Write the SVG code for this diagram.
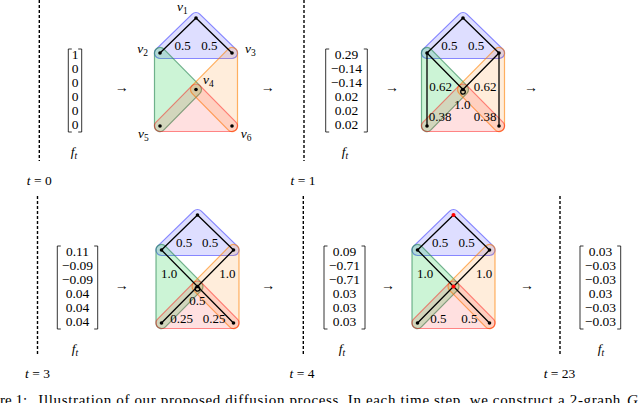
<svg xmlns="http://www.w3.org/2000/svg" xmlns:xlink="http://www.w3.org/1999/xlink" width="640" height="403" viewBox="0 0 640 403" font-family="'Liberation Serif', 'DejaVu Serif', serif">
<style>
text{font-family:"Liberation Serif","DejaVu Serif",serif;fill:#000}
.n{font-size:13.5px;text-anchor:middle}
.w{font-size:13px;text-anchor:middle}
.i{font-style:italic}
.ar{font-size:14px;text-anchor:middle}
.dash{stroke:#000;stroke-width:1.4;stroke-dasharray:3 2;fill:none}
.br{stroke:#000;stroke-width:0.8;fill:none}
.e{stroke:#000;stroke-width:1.3;fill:none;stroke-linecap:round}
.hb{fill:#3232ff;fill-opacity:0.16;stroke:#3232ff;stroke-opacity:0.55;stroke-width:1.2}
.hg{fill:#00c832;fill-opacity:0.2;stroke:#2e8b57;stroke-opacity:0.65;stroke-width:1.2}
.ho{fill:#ff8000;fill-opacity:0.14;stroke:#ff8000;stroke-opacity:0.6;stroke-width:1.2}
.hr{fill:#ff0000;fill-opacity:0.12;stroke:#ff0000;stroke-opacity:0.45;stroke-width:1.2}
.cap{font-size:15px}
</style>
<defs>
<g id="hyper">
<path class="hb" d="M-3.834,-3.944 A5.5,5.5 0 0 1 3.834,-3.944 L39.834,31.056 A5.5,5.5 0 0 1 36,40.5 L-36,40.5 A5.5,5.5 0 0 1 -39.834,31.056 Z"/>
<path class="hg" d="M-41.5,35 A5.5,5.5 0 0 1 -32.085,31.138 L3.915,67.638 A5.5,5.5 0 0 1 3.915,75.362 L-32.085,111.862 A5.5,5.5 0 0 1 -41.5,108 Z"/>
<path class="ho" d="M32.085,31.138 A5.5,5.5 0 0 1 41.5,35 L41.5,108 A5.5,5.5 0 0 1 32.085,111.862 L-3.915,75.362 A5.5,5.5 0 0 1 -3.915,67.638 Z"/>
<path class="hr" d="M-3.915,67.638 A5.5,5.5 0 0 1 3.915,67.638 L39.915,104.138 A5.5,5.5 0 0 1 36,113.5 L-36,113.5 A5.5,5.5 0 0 1 -39.915,104.138 Z"/>
</g>
<circle id="dot" r="1.8" fill="#000"/>
</defs>

<!-- time separators -->
<g id="separators">
<line class="dash" x1="39.3" y1="0" x2="39.3" y2="161"/>
<text class="n" x="39.3" y="184.5"><tspan class="i">t</tspan> = 0</text>
<line class="dash" x1="304" y1="0" x2="304" y2="161"/>
<text class="n" x="303" y="184.5"><tspan class="i">t</tspan> = 1</text>
<line class="dash" x1="37.5" y1="196" x2="37.5" y2="356"/>
<text class="n" x="37.5" y="378"><tspan class="i">t</tspan> = 3</text>
<line class="dash" x1="303.3" y1="196" x2="303.3" y2="356"/>
<text class="n" x="302" y="378"><tspan class="i">t</tspan> = 4</text>
<line class="dash" x1="560" y1="196" x2="560" y2="356"/>
<text class="n" x="559.5" y="378"><tspan class="i">t</tspan> = 23</text>
</g>

<!-- vectors -->
<g id="vec0">
<path class="br" d="M71.8,49 H68.3 V132 H71.8 M78.2,49 H81.7 V132 H78.2"/>
<text class="n" x="75" y="59">1</text>
<text class="n" x="75" y="72.9">0</text>
<text class="n" x="75" y="86.8">0</text>
<text class="n" x="75" y="100.7">0</text>
<text class="n" x="75" y="114.6">0</text>
<text class="n" x="75" y="128.5">0</text>
<text class="n" x="74" y="156"><tspan class="i">f</tspan><tspan font-size="9.5" dy="2.5" class="i">t</tspan></text>
</g>
<g id="vec1">
<path class="br" d="M329.2,49 H325.7 V132 H329.2 M363.8,49 H367.3 V132 H363.8"/>
<text class="n" x="346.5" y="59">0.29</text>
<text class="n" x="346.5" y="72.9">−0.14</text>
<text class="n" x="346.5" y="86.8">−0.14</text>
<text class="n" x="346.5" y="100.7">0.02</text>
<text class="n" x="346.5" y="114.6">0.02</text>
<text class="n" x="346.5" y="128.5">0.02</text>
<text class="n" x="345" y="156"><tspan class="i">f</tspan><tspan font-size="9.5" dy="2.5" class="i">t</tspan></text>
</g>
<g id="vec3">
<path class="br" d="M60.8,246 H57.3 V329 H60.8 M94.2,246 H97.7 V329 H94.2"/>
<text class="n" x="77.5" y="256">0.11</text>
<text class="n" x="77.5" y="269.9">−0.09</text>
<text class="n" x="77.5" y="283.8">−0.09</text>
<text class="n" x="77.5" y="297.7">0.04</text>
<text class="n" x="77.5" y="311.6">0.04</text>
<text class="n" x="77.5" y="325.5">0.04</text>
<text class="n" x="75" y="353"><tspan class="i">f</tspan><tspan font-size="9.5" dy="2.5" class="i">t</tspan></text>
</g>
<g id="vec4">
<path class="br" d="M327.5,246 H324 V329 H327.5 M361.5,246 H365 V329 H361.5"/>
<text class="n" x="344.5" y="256">0.09</text>
<text class="n" x="344.5" y="269.9">−0.71</text>
<text class="n" x="344.5" y="283.8">−0.71</text>
<text class="n" x="344.5" y="297.7">0.03</text>
<text class="n" x="344.5" y="311.6">0.03</text>
<text class="n" x="344.5" y="325.5">0.03</text>
<text class="n" x="342" y="353"><tspan class="i">f</tspan><tspan font-size="9.5" dy="2.5" class="i">t</tspan></text>
</g>
<g id="vec23">
<path class="br" d="M583.5,246 H580 V329 H583.5 M617.2,246 H620.7 V329 H617.2"/>
<text class="n" x="600.5" y="256">0.03</text>
<text class="n" x="600.5" y="269.9">−0.03</text>
<text class="n" x="600.5" y="283.8">−0.03</text>
<text class="n" x="600.5" y="297.7">0.03</text>
<text class="n" x="600.5" y="311.6">−0.03</text>
<text class="n" x="600.5" y="325.5">−0.03</text>
<text class="n" x="601" y="353"><tspan class="i">f</tspan><tspan font-size="9.5" dy="2.5" class="i">t</tspan></text>
</g>

<!-- step arrows -->
<g id="arrows">
<text class="ar" x="121.7" y="92">→</text>
<text class="ar" x="267.7" y="92">→</text>
<text class="ar" x="392" y="92">→</text>
<text class="ar" x="531" y="92">→</text>
<text class="ar" x="121.7" y="290">→</text>
<text class="ar" x="268.3" y="290">→</text>
<text class="ar" x="388" y="290">→</text>
<text class="ar" x="527" y="290">→</text>
</g>

<!-- hypergraph t=0 -->
<g id="graph0" transform="translate(196,18)">
<use xlink:href="#hyper" href="#hyper"/>
<g id="g0-edges">
<line class="e" x1="0" y1="0" x2="-36" y2="35"/>
<line class="e" x1="0" y1="0" x2="36" y2="35"/>
</g>
<g id="g0-v1"><use href="#dot" xlink:href="#dot" x="0" y="0"/><text x="-19" y="-7" font-size="13.5"><tspan class="i">v</tspan><tspan font-size="9.5" dy="2.5">1</tspan></text></g>
<g id="g0-v2"><use href="#dot" xlink:href="#dot" x="-36" y="35"/><text x="-58.7" y="35.3" font-size="13.5"><tspan class="i">v</tspan><tspan font-size="9.5" dy="2.5">2</tspan></text></g>
<g id="g0-v3"><use href="#dot" xlink:href="#dot" x="36" y="35"/><text x="49" y="35.3" font-size="13.5"><tspan class="i">v</tspan><tspan font-size="9.5" dy="2.5">3</tspan></text></g>
<g id="g0-v4"><use href="#dot" xlink:href="#dot" x="0" y="71.5"/><text x="7" y="66" font-size="13.5"><tspan class="i">v</tspan><tspan font-size="9.5" dy="2.5">4</tspan></text></g>
<g id="g0-v5"><use href="#dot" xlink:href="#dot" x="-36" y="108"/><text x="-58" y="120.3" font-size="13.5"><tspan class="i">v</tspan><tspan font-size="9.5" dy="2.5">5</tspan></text></g>
<g id="g0-v6"><use href="#dot" xlink:href="#dot" x="36" y="108"/><text x="44.7" y="120.3" font-size="13.5"><tspan class="i">v</tspan><tspan font-size="9.5" dy="2.5">6</tspan></text></g>
<text class="w" x="-13.3" y="31.5">0.5</text>
<text class="w" x="13.3" y="31.5">0.5</text>
</g>

<!-- hypergraph t=1 -->
<g id="graph1" transform="translate(463,18)">
<use xlink:href="#hyper" href="#hyper"/>
<g id="g1-edges">
<line class="e" x1="0" y1="0" x2="-36" y2="35"/>
<line class="e" x1="0" y1="0" x2="36" y2="35"/>
<line class="e" x1="-36" y1="35" x2="0" y2="71.5"/>
<line class="e" x1="36" y1="35" x2="0" y2="71.5"/>
<line class="e" x1="-36" y1="35" x2="-36" y2="108"/>
<line class="e" x1="36" y1="35" x2="36" y2="108"/>
<circle class="e" cx="0" cy="73.8" r="2.3"/>
</g>
<g id="g1-v1"><use href="#dot" xlink:href="#dot" x="0" y="0"/></g>
<g id="g1-v2"><use href="#dot" xlink:href="#dot" x="-36" y="35"/></g>
<g id="g1-v3"><use href="#dot" xlink:href="#dot" x="36" y="35"/></g>
<g id="g1-v4"><use href="#dot" xlink:href="#dot" x="0" y="71.5"/></g>
<g id="g1-v5"><use href="#dot" xlink:href="#dot" x="-36" y="108"/></g>
<g id="g1-v6"><use href="#dot" xlink:href="#dot" x="36" y="108"/></g>
<text class="w" x="-13.7" y="31.5">0.5</text>
<text class="w" x="13" y="31.5">0.5</text>
<text class="w" x="-22.3" y="72.5">0.62</text>
<text class="w" x="22" y="72.5">0.62</text>
<text class="w" x="-0.7" y="90.8">1.0</text>
<text class="w" x="-23" y="103.2">0.38</text>
<text class="w" x="22" y="103.2">0.38</text>
</g>

<!-- hypergraph t=3 -->
<g id="graph3" transform="translate(197.5,215)">
<use xlink:href="#hyper" href="#hyper"/>
<g id="g3-edges">
<line class="e" x1="0" y1="0" x2="-36" y2="35"/>
<line class="e" x1="0" y1="0" x2="36" y2="35"/>
<line class="e" x1="-36" y1="35" x2="36" y2="108"/>
<line class="e" x1="36" y1="35" x2="-36" y2="108"/>
<circle class="e" cx="0" cy="73.8" r="2.3"/>
</g>
<g id="g3-v1"><use href="#dot" xlink:href="#dot" x="0" y="0"/></g>
<g id="g3-v2"><use href="#dot" xlink:href="#dot" x="-36" y="35"/></g>
<g id="g3-v3"><use href="#dot" xlink:href="#dot" x="36" y="35"/></g>
<g id="g3-v4"><use href="#dot" xlink:href="#dot" x="0" y="71.5"/></g>
<g id="g3-v5"><use href="#dot" xlink:href="#dot" x="-36" y="108"/></g>
<g id="g3-v6"><use href="#dot" xlink:href="#dot" x="36" y="108"/></g>
<text class="w" x="-13.5" y="32">0.5</text>
<text class="w" x="12.5" y="32">0.5</text>
<text class="w" x="-28.5" y="62.8">1.0</text>
<text class="w" x="29.8" y="62.8">1.0</text>
<text class="w" x="-0.2" y="89.5">0.5</text>
<text class="w" x="-15.8" y="107.8">0.25</text>
<text class="w" x="16.5" y="107.8">0.25</text>
</g>

<!-- hypergraph t=4 -->
<g id="graph4" transform="translate(453.5,215)">
<use xlink:href="#hyper" href="#hyper"/>
<g id="g4-edges">
<line class="e" x1="0" y1="0" x2="-36" y2="35"/>
<line class="e" x1="0" y1="0" x2="36" y2="35"/>
<line class="e" x1="-36" y1="35" x2="36" y2="108"/>
<line class="e" x1="36" y1="35" x2="-36" y2="108"/>
</g>
<g id="g4-v1"><circle cx="0" cy="0" r="2" fill="#ff0000"/></g>
<g id="g4-v2"><use href="#dot" xlink:href="#dot" x="-36" y="35"/></g>
<g id="g4-v3"><use href="#dot" xlink:href="#dot" x="36" y="35"/></g>
<g id="g4-v4"><circle cx="0" cy="71.5" r="2" fill="#ff0000"/></g>
<g id="g4-v5"><use href="#dot" xlink:href="#dot" x="-36" y="108"/></g>
<g id="g4-v6"><use href="#dot" xlink:href="#dot" x="36" y="108"/></g>
<text class="w" x="-13.5" y="32">0.5</text>
<text class="w" x="13.2" y="32">0.5</text>
<text class="w" x="-28.5" y="62.8">1.0</text>
<text class="w" x="30.5" y="62.8">1.0</text>
<text class="w" x="-15.2" y="107.8">0.5</text>
<text class="w" x="15.8" y="107.8">0.5</text>
</g>

<!-- caption (cut off by the page edge) -->
<text class="cap" x="0" y="404.5">re 1:<tspan x="38.3" textLength="582" lengthAdjust="spacing">Illustration of our proposed diffusion process. In each time step, we construct a 2-graph</tspan><tspan class="i" x="627">G</tspan></text>
</svg>
